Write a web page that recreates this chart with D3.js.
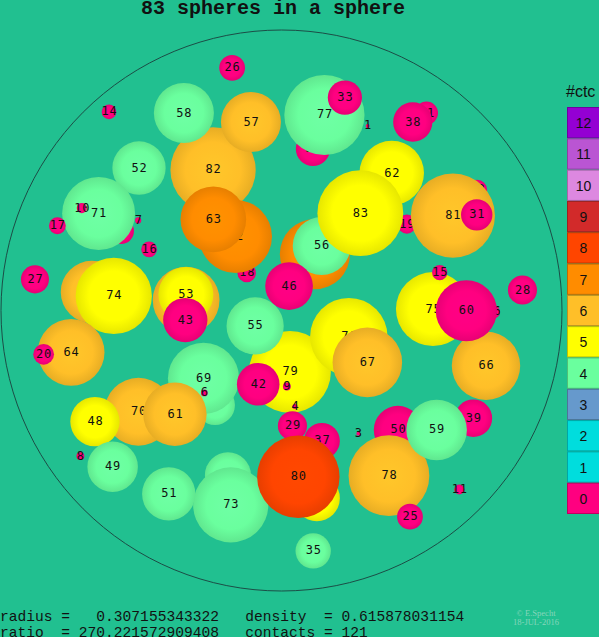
<!DOCTYPE html>
<html>
<head>
<meta charset="utf-8">
<script src="https://cdn.jsdelivr.net/npm/d3@7/dist/d3.min.js"></script>
<style>
html,body{margin:0;padding:0;background:#21c090;}
svg{display:block;}
</style>
</head>
<body>
<svg id="chart" width="599" height="637"></svg>
<script>
// ---- data (container sphere radius = 100 units, centre = 0,0, y up) ----
const ids = [34,77,33,1,21,38,26,14,82,57,58,18,72,63,52,30,71,10,7,17,16,27,19,22,62,68,56,83,81,31,46,65,53,43,54,74,64,20,79,76,67,55,44,69,6,9,4,42,70,61,48,49,8,45,73,51,47,37,29,80,3,50,39,78,59,25,11,35,75,36,66,60,15,28];
const xs  = [11.2,15.3,22.6,30.7,51.7,46.8,-17.6,-61.5,-24.4,-10.9,-34.8,-12.4,-16.4,-24.3,-50.8,-57.2,-65.2,-71.2,-51.1,-79.9,-47.2,-87.9,44.7,69.7,39.3,11.9,14.3,28.1,61.1,69.6,2.7,-34.0,-34.1,-34.3,-67.6,-59.8,-75.0,-84.8,3.0,24.0,30.6,-9.4,-23.7,-27.8,-27.5,1.9,4.8,-8.3,-51.0,-38.0,-66.5,-60.2,-71.7,-19.1,-18.1,-40.2,12.6,14.4,3.9,6.0,27.4,41.5,68.4,38.3,55.3,45.8,63.4,11.3,54.0,75.4,72.9,65.9,56.4,85.9];
const ys  = [57.6,69.7,75.9,65.8,70.4,67.2,86.5,70.8,50.1,67.2,70.4,13.4,26.4,32.5,50.8,28.3,34.6,36.5,32.1,30.2,21.8,11.1,30.8,43.0,49.0,20.1,23.0,34.7,33.8,34.1,8.7,3.7,5.7,-3.4,6.6,5.2,-14.9,-15.6,-21.9,-9.3,-18.5,-5.5,-33.7,-24.2,-29.4,-27.1,-34.2,-26.3,-36.1,-37.0,-39.6,-55.7,-51.9,-58.7,-69.3,-65.4,-66.9,-46.5,-41.1,-59.3,-43.9,-42.6,-38.4,-58.9,-42.6,-73.5,-63.8,-85.7,0.5,-0.5,-19.7,-0.1,13.5,7.3];
const rs  = [6.1,14.3,6.1,0.7,4.1,7.0,4.6,2.6,15.2,10.7,10.7,3.3,13.0,11.7,9.5,4.6,13.0,1.8,1.1,3.0,2.8,5.0,3.4,3.6,11.5,12.5,10.3,15.3,15.0,5.6,8.5,11.9,9.8,7.9,11.1,13.6,11.9,3.7,14.6,13.8,12.4,10.2,7.1,12.7,1.2,1.4,0.9,7.6,12.1,11.3,8.8,9.0,1.4,8.2,13.4,9.5,8.2,6.4,5.2,14.7,0.7,8.6,6.7,14.4,10.8,4.6,1.8,6.3,13.2,2.5,12.2,10.9,2.7,5.2];
const ctc = [0,4,0,0,0,0,0,0,6,6,4,0,7,7,4,0,4,0,0,0,0,0,0,0,5,7,4,5,6,0,0,6,5,0,6,5,6,0,5,5,6,4,4,4,0,0,0,0,6,6,5,4,0,4,4,4,5,0,0,8,0,0,0,6,4,0,0,4,5,0,6,0,0,0];

const legendValues = [12,11,10,9,8,7,6,5,4,3,2,1,0];
const legendColors = ["#9400d3","#ba55d3","#dd88e0","#d22a2a","#ff4500","#ff8c00","#ffbf28","#ffff00","#6aff9e","#6699cc","#00dddd","#00dddd","#ff0080"];

const titleText = "83 spheres in a sphere";
const footerLines = ["radius =   0.307155343322   density  = 0.615878031154",
                     "ratio  = 270.221572909408   contacts = 121"];
const creditLines = ["\u00a9 E.Specht","18-JUL-2016"];

// ---- drawing ----
const svg = d3.select("#chart");
const W = 599, H = 637;
svg.append("rect").attr("width",W).attr("height",H).attr("fill","#21c090");

const x = d3.scaleLinear().domain([-100,100]).range([1,562]);
const y = d3.scaleLinear().domain([100,-100]).range([30,591]);
const rr = d3.scaleLinear().domain([0,100]).range([0,280.5]);
const color = d3.scaleOrdinal().domain(legendValues).range(legendColors);

// gradients
const defs = svg.append("defs");
legendValues.forEach(v => {
  const c = d3.color(color(v));
  const g = defs.append("radialGradient").attr("id","g"+v)
    .attr("cx","50%").attr("cy","50%").attr("r","50%");
  g.append("stop").attr("offset","0%").attr("stop-color", c.brighter(0.12).formatHex());
  g.append("stop").attr("offset","65%").attr("stop-color", c.formatHex());
  g.append("stop").attr("offset","100%").attr("stop-color", c.darker(0.28).formatHex());
});

// container
svg.append("circle").attr("cx",x(0)).attr("cy",y(0)).attr("r",rr(100))
  .attr("fill","none").attr("stroke","#1c4d46").attr("stroke-width",1);

const data = ids.map((id,i)=>({id, x:xs[i], y:ys[i], r:rs[i], c:ctc[i]}));
const g = svg.append("g");
data.forEach(d => {
  g.append("circle").attr("cx",x(d.x)).attr("cy",y(d.y)).attr("r",rr(d.r))
    .attr("fill","url(#g"+d.c+")");
  g.append("text").attr("x",x(d.x)+0.5).attr("y",y(d.y)+3.5)
    .attr("text-anchor","middle")
    .attr("font-family","'DejaVu Sans Mono', monospace").attr("font-size",12)
    .attr("letter-spacing",0.8)
    .attr("fill","#111").text(d.id);
});

// title
svg.append("text").attr("x",273).attr("y",14).attr("text-anchor","middle")
  .attr("font-family","'Liberation Mono', 'Courier New', monospace")
  .attr("font-weight","bold").attr("font-size",20).attr("fill","#111").text(titleText);

// footer
svg.selectAll("text.foot").data(footerLines).enter().append("text")
  .attr("class","foot").attr("x",0).attr("y",(d,i)=>621+i*15.5)
  .attr("font-family","'Liberation Mono', 'Courier New', monospace")
  .attr("font-size",14.6).attr("fill","#111").attr("xml:space","preserve")
  .style("white-space","pre").text(d=>d);

svg.selectAll("text.credit").data(creditLines).enter().append("text")
  .attr("class","credit").attr("x",536).attr("y",(d,i)=>616+i*8.5)
  .attr("text-anchor","middle")
  .attr("font-family","'Liberation Serif', serif").attr("font-size",8.5)
  .attr("fill","#86d6bb").text(d=>d);

// legend
const band = d3.scaleBand().domain(legendValues).range([107,514]);
svg.append("text").attr("x",566).attr("y",97)
  .attr("font-family","'Liberation Sans', Arial, sans-serif").attr("font-size",16)
  .attr("fill","#111").text("#ctc");
const lg = svg.append("g");
legendValues.forEach(v => {
  lg.append("rect").attr("x",567.5).attr("y",band(v)+0.5).attr("width",33)
    .attr("height",band.bandwidth()-1)
    .attr("fill",color(v)).attr("stroke",d3.color(color(v)).darker(0.8).formatHex())
    .attr("stroke-width",1);
  lg.append("text").attr("x",583.5).attr("y",band(v)+band.bandwidth()/2+5.5)
    .attr("text-anchor","middle")
    .attr("font-family","'Liberation Sans', Arial, sans-serif").attr("font-size",14)
    .attr("fill","#111").text(v);
});
</script>
</body>
</html>
